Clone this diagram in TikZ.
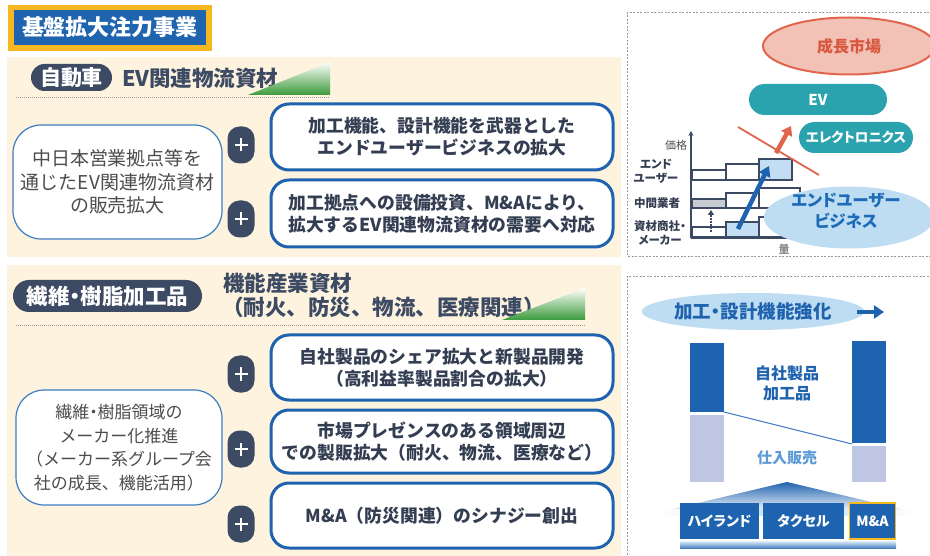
\documentclass[tikz,border=0pt]{standalone}
\usepackage{fontspec}
\setmainfont{Noto Sans CJK JP}
\newfontfamily\paltfont{Noto Sans CJK JP}[RawFeature=+palt]
\usetikzlibrary{shapes.geometric,shapes.misc,arrows.meta}
\newcommand\myfs[2]{\fontsize{#1}{#2}\selectfont}
\newcommand\ndot{{\paltfont ・}}
\definecolor{cream}{HTML}{FDF3DE}
\definecolor{slate}{HTML}{3D4A63}
\definecolor{boxblue}{HTML}{1F63AE}
\definecolor{lboxblue}{HTML}{3C7DC0}
\definecolor{textdark}{HTML}{343E52}
\definecolor{textgray}{HTML}{4D4D4D}
\definecolor{titleblue}{HTML}{1F64AE}
\definecolor{titleyellow}{HTML}{F5B820}
\definecolor{teal}{HTML}{2BA3AF}
\definecolor{salmonfill}{HTML}{F2C2B6}
\definecolor{salmonline}{HTML}{E0654C}
\definecolor{salmontext}{HTML}{D8583F}
\definecolor{lightblue}{HTML}{BEDDF3}
\definecolor{ellblue}{HTML}{1E6CB8}
\definecolor{darkbar}{HTML}{1E63AF}
\definecolor{lightbar}{HTML}{BEC6E4}
\definecolor{buytext}{HTML}{5C9AD6}
\definecolor{wedgegreen}{HTML}{3C9B3C}
\definecolor{panelgray}{HTML}{9A9A9A}
\definecolor{barfillblue}{HTML}{C3DDF2}
\definecolor{barfillgray}{HTML}{C8CCD2}
\tikzset{
  pill/.style={rounded rectangle, fill=slate, text=white, font=\bfseries\myfs{21}{21}},
  header/.style={anchor=west, text=slate, font=\bfseries\myfs{21.5}{24}},
  lbox/.style={draw=lboxblue, line width=1.2pt, fill=white, rounded corners=28pt, align=center, text=textgray},
  rbox/.style={draw=boxblue, line width=3pt, fill=white, rounded corners=18pt, minimum width=342pt, align=center, text=textdark, font=\bfseries\myfs{17.8}{22}},
  plusbox/.style={fill=slate, rounded corners=12pt, minimum width=27pt, minimum height=37pt},
  plusline/.style={white, line width=2pt},
  sepline/.style={draw=panelgray, line width=0.8pt, dash pattern=on 1pt off 1pt},
  panel/.style={draw=panelgray, line width=0.8pt, dash pattern=on 2pt off 1.5pt},
  bar/.style={draw=slate, line width=1.6pt, fill=white},
  axislabel/.style={text=textgray, font=\myfs{11}{11}},
  rowlabel/.style={align=center, text=textdark, font=\bfseries\paltfont\myfs{11.5}{14}},
  tealpill/.style={rounded rectangle, fill=teal, text=white, minimum height=31pt},
  smallbox/.style={fill=darkbar, text=white, minimum height=36pt, font=\bfseries\paltfont\myfs{14}{14}},
}
\begin{document}
\begin{tikzpicture}[x=1pt,y=-1pt, every node/.append style={inner sep=0pt, outer sep=0pt}]
\useasboundingbox (0,0) rectangle (930,556);
\fill[white] (0,0) rectangle (930,556);

% cream sections
\fill[cream] (7,57) rectangle (621,257);
\fill[cream] (7,265) rectangle (621,556);

% title
\node[fill=titleyellow, minimum width=204pt, minimum height=46pt] (titleouter) at (110,28) {};
\node[fill=titleblue, minimum width=192pt, minimum height=35pt, text=white, font=\bfseries\myfs{22}{22}] (title) at (110,27.5) {基盤拡大注力事業};

% ---------- section 1 ----------
\node[pill, minimum width=81pt, minimum height=27pt] (car) at (71.5,77.5) {自動車};
\node[header] (evmat) at (122,78) {EV関連物流資材};
\shade[top color=white, bottom color=wedgegreen] (248,95) -- (330,95) -- (330,62) -- cycle;
\coordinate (sep1a) at (16,97);
\coordinate (sep1b) at (330,97);
\draw[sepline] (sep1a) -- (sep1b);

\node[lbox, minimum width=209pt, minimum height=114pt, font=\myfs{19}{23.5}] (left1) at (117.5,182) {中日本営業拠点等を\\通じたEV関連物流資材\\の販売拡大};

\node[rbox, minimum height=66pt] (r1) at (442,137) {加工機能、設計機能を武器とした\\エンドユーザービジネスの拡大};
\node[rbox, minimum height=67pt] (r2) at (442,213.5) {加工拠点への設備投資、M\&Aにより、\\拡大するEV関連物流資材の需要へ対応};

% ---------- section 2 ----------
\node[pill, minimum width=189pt, minimum height=32pt, font=\bfseries\myfs{21.5}{21.5}] (fiber) at (107.5,296) {繊維\ndot 樹脂加工品};
\node[header] (func1) at (223,283) {機能産業資材};
\node[header] (func2) at (222,307) {（耐火、防災、物流、医療関連）};
\shade[top color=white, bottom color=wedgegreen] (502,320) -- (585,320) -- (585,288) -- cycle;
\coordinate (sep2a) at (16,325);
\coordinate (sep2b) at (585,325);
\draw[sepline] (sep2a) -- (sep2b);

\node[lbox, minimum width=206pt, minimum height=115pt, font=\myfs{17}{23.5}] (left2) at (119,447.5) {繊維\ndot 樹脂領域の\\メーカー化推進\\（メーカー系グループ会\\社の成長、機能活用）};

\node[rbox, minimum height=65pt] (r3) at (442,367.5) {自社製品のシェア拡大と新製品開発\\（高利益率製品割合の拡大）};
\node[rbox, minimum height=63pt] (r4) at (442,441.5) {市場プレゼンスのある領域周辺\\での製販拡大（耐火、物流、医療など）};
\node[rbox, minimum height=65pt] (r5) at (442,515.5) {M\&A（防災関連）のシナジー創出};

% plus icons
\foreach \p/\yy in {pa/145,pb/219,pc/374,pd/449,pe/524}{
  \node[plusbox] (\p) at (241,\yy) {};
  \draw[plusline] ([xshift=-6.5pt]\p.center) -- ([xshift=6.5pt]\p.center);
  \draw[plusline] ([yshift=-6.5pt]\p.center) -- ([yshift=6.5pt]\p.center);
}

% ---------- right panel 1 ----------
\draw[panel] (627,12) rectangle (940,256);
\node[ellipse, draw=salmonline, line width=2pt, fill=salmonfill, minimum width=172pt, minimum height=57pt, text=salmontext, font=\bfseries\myfs{16}{16}] (grow) at (849,46) {成長市場};
\node[tealpill, minimum width=138pt, font=\bfseries\myfs{15}{15}] (ev) at (818,99.5) {EV};
\node[tealpill, minimum width=114pt, font=\bfseries\paltfont\myfs{13.5}{13.5}] (elec) at (856,137.5) {エレクトロニクス};

% chart bars
\draw[bar] (692,170) rectangle (726,180);
\draw[bar] (726,164) rectangle (759,180);
\draw[bar, fill=barfillblue] (759,159) rectangle (792,180);
\draw[bar, fill=barfillgray] (692,199) rectangle (726,208);
\draw[bar] (726,193) rectangle (759,208);
\draw[bar] (759,188) rectangle (800,208);
\draw[bar] (692,227) rectangle (726,237);
\draw[bar, fill=barfillblue] (726,222) rectangle (759,237);
\draw[bar] (759,217) rectangle (800,237);

% axes
\coordinate (origin) at (691,238);
\coordinate (ytop) at (691,131);
\coordinate (xend) at (802,238);
\draw[slate, line width=1.2pt, -{Stealth[length=5pt,width=5pt]}] (origin) -- (ytop);
\draw[slate, line width=1.2pt, -{Stealth[length=5pt,width=5pt]}] (origin) -- (xend);
\node[axislabel] (price) at (676,145) {価格};
\node[axislabel] (qty) at (784,249) {量};
\node[rowlabel] (lblend) at (656,171.5) {エンド\\ユーザー};
\node[rowlabel] (lblmid) at (657,203) {中間業者};
\node[rowlabel] (lblmaker) at (660,233) {資材商社・\\メーカー};

% dotted arrow
\coordinate (da1) at (711,232);
\coordinate (da2) at (711,210);
\draw[slate, line width=1.2pt, dash pattern=on 1.5pt off 1.5pt, -{Triangle[length=5pt,width=6pt]}] (da1) -- (da2);

% red line and arrow
\coordinate (rl1) at (738,127);
\coordinate (rl2) at (819,175);
\draw[salmonline, line width=1.8pt] (rl1) -- (rl2);
\coordinate (ra1) at (776,153);
\coordinate (ra2) at (791,126);
\draw[salmonline, line width=4.5pt, -{Triangle[length=9pt,width=12pt]}] (ra1) -- (ra2);

% blue arrow
\coordinate (ba1) at (738,229);
\coordinate (ba2) at (769,166);
\draw[darkbar, line width=4.5pt, -{Triangle[length=10pt,width=12pt]}] (ba1) -- (ba2);

% end user ellipse
\node[ellipse, fill=lightblue, minimum width=170pt, minimum height=62pt] (eub) at (849,217.5) {};
\node[text=ellblue, align=center, font=\bfseries\paltfont\myfs{16.5}{21.5}] (eubtext) at (846,211) {エンドユーザー\\ビジネス};

% ---------- right panel 2 ----------
\draw[panel] (627,276) rectangle (940,560);
\node[ellipse, fill=lightblue, minimum width=204pt, minimum height=37pt, text=boxblue, font=\bfseries\myfs{18.5}{18.5}] (kako) at (753,311.5) {加工\ndot 設計機能強化};
\coordinate (ka1) at (857,312);
\coordinate (ka2) at (884,312);
\draw[darkbar, line width=4.5pt, -{Triangle[length=10pt,width=13pt]}] (ka1) -- (ka2);

\fill[darkbar] (690,343) rectangle (724,412);
\fill[lightbar] (690,415) rectangle (724,482);
\fill[darkbar] (852,341) rectangle (886,443);
\fill[lightbar] (852,446) rectangle (886,482);
\coordinate (sl1) at (724,412);
\coordinate (sl2) at (852,444);
\draw[lboxblue, line width=1pt] (sl1) -- (sl2);
\node[align=center, text=boxblue, font=\bfseries\myfs{16}{20}] (own) at (787,383) {自社製品\\加工品};
\node[text=buytext, font=\bfseries\myfs{15}{15}] (buy) at (787,458) {仕入販売};

% wedge and glow
\shade[top color=darkbar, bottom color=darkbar!8] (787,482) -- (905,510) -- (668,510) -- cycle;
\shade[left color=white, right color=white, middle color=lightblue] (660,509) rectangle (914,515);

\node[smallbox, minimum width=79pt] (hiland) at (719.5,521) {ハイランド};
\node[smallbox, minimum width=81pt] (taxel) at (803.5,521) {タクセル};
\node[smallbox, minimum width=46pt, draw=titleyellow, line width=1.5pt] (ma) at (872.5,521) {M\&A};
\shade[top color=lightblue!50, bottom color=darkbar!80] (680,541) rectangle (896,548);
\end{tikzpicture}
\end{document}
